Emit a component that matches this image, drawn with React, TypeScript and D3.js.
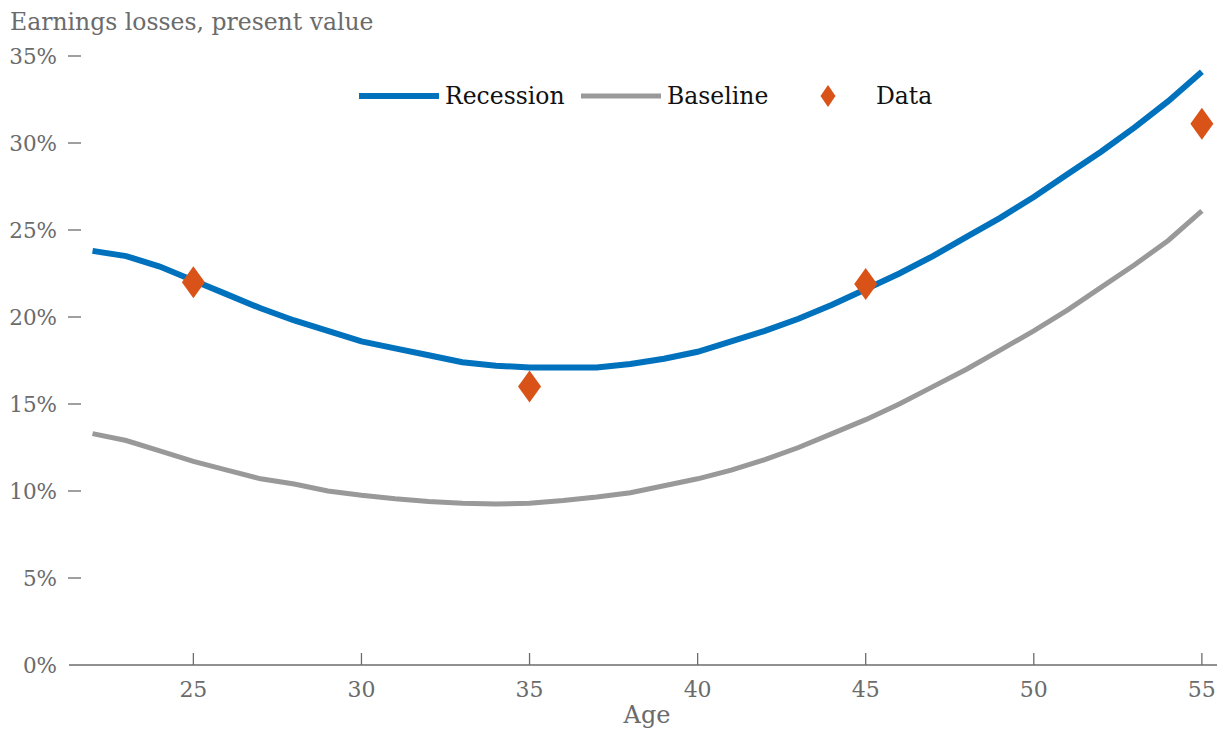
import React, { useEffect, useRef } from 'react';
import * as d3 from 'd3';

const AGES = d3.range(22, 56);

const RECESSION = [
  23.8, 23.5, 22.9, 22.1, 21.3, 20.5, 19.8, 19.2, 18.6, 18.2, 17.8, 17.4,
  17.2, 17.1, 17.1, 17.1, 17.3, 17.6, 18.0, 18.6, 19.2, 19.9, 20.7, 21.6,
  22.5, 23.5, 24.6, 25.7, 26.9, 28.2, 29.5, 30.9, 32.4, 34.1,
];

const BASELINE = [
  13.3, 12.9, 12.3, 11.7, 11.2, 10.7, 10.4, 10.0, 9.75, 9.55, 9.4, 9.3,
  9.25, 9.3, 9.45, 9.65, 9.9, 10.3, 10.7, 11.2, 11.8, 12.5, 13.3, 14.1,
  15.0, 16.0, 17.0, 18.1, 19.2, 20.4, 21.7, 23.0, 24.4, 26.1,
];

const DATA_AGES = [25, 35, 45, 55];
const DATA_VALUES = [22.0, 16.0, 21.9, 31.1];

const X_TICKS = [25, 30, 35, 40, 45, 50, 55];
const Y_TICKS = [0, 5, 10, 15, 20, 25, 30, 35];

const W = 1217;
const H = 731;
const FONT = 'DejaVu Serif, serif';
const AXIS_GRAY = '#6b6b6b';
const BLUE = '#0072BD';
const GRAY = '#999999';
const ORANGE = '#D95319';

const diamond = (cx: number, cy: number, w: number, h: number) =>
  `M${cx},${cy - h / 2}L${cx + w / 2},${cy}L${cx},${cy + h / 2}L${cx - w / 2},${cy}Z`;

export default function App() {
  const ref = useRef<SVGSVGElement>(null);

  useEffect(() => {
    if (!ref.current) return;
    const svg = d3.select(ref.current);
    svg.selectAll('*').remove();

    const x = d3.scaleLinear().domain([21.3, 55.45]).range([69, 1217]);
    const y = d3.scaleLinear().domain([0, 35]).range([665, 56]);

    // title
    svg.append('text')
      .attr('x', 10).attr('y', 30)
      .attr('font-family', FONT).attr('font-size', 23.5)
      .attr('fill', AXIS_GRAY)
      .text('Earnings losses, present value');

    // x axis
    const xAxis = svg.append('g');
    xAxis.append('line')
      .attr('x1', 69).attr('x2', 1217)
      .attr('y1', y(0)).attr('y2', y(0))
      .attr('stroke', AXIS_GRAY).attr('stroke-width', 1.3);
    xAxis.selectAll('line.tick')
      .data(X_TICKS)
      .join('line')
      .attr('class', 'tick')
      .attr('x1', (d) => x(d)).attr('x2', (d) => x(d))
      .attr('y1', y(0)).attr('y2', y(0) - 12)
      .attr('stroke', AXIS_GRAY).attr('stroke-width', 1.3);
    xAxis.selectAll('text.tl')
      .data(X_TICKS)
      .join('text')
      .attr('class', 'tl')
      .attr('x', (d) => x(d)).attr('y', 697)
      .attr('text-anchor', 'middle')
      .attr('font-family', FONT).attr('font-size', 22)
      .attr('fill', AXIS_GRAY)
      .text((d) => d);
    xAxis.append('text')
      .attr('x', 647).attr('y', 723)
      .attr('text-anchor', 'middle')
      .attr('font-family', FONT).attr('font-size', 24)
      .attr('fill', AXIS_GRAY)
      .text('Age');

    // y axis (ticks only)
    const yAxis = svg.append('g');
    yAxis.selectAll('line')
      .data(Y_TICKS.filter((d) => d > 0))
      .join('line')
      .attr('x1', 68).attr('x2', 81)
      .attr('y1', (d) => y(d)).attr('y2', (d) => y(d))
      .attr('stroke', AXIS_GRAY).attr('stroke-width', 1.3);
    yAxis.selectAll('text')
      .data(Y_TICKS)
      .join('text')
      .attr('x', 57).attr('y', (d) => y(d) + 8)
      .attr('text-anchor', 'end')
      .attr('font-family', FONT).attr('font-size', 21.5)
      .attr('fill', AXIS_GRAY)
      .text((d) => `${d}%`);

    // lines
    const line = d3.line<number>()
      .x((_, i) => x(AGES[i]))
      .y((d) => y(d));

    svg.append('path')
      .attr('d', line(BASELINE) ?? '')
      .attr('fill', 'none').attr('stroke', GRAY).attr('stroke-width', 5);
    svg.append('path')
      .attr('d', line(RECESSION) ?? '')
      .attr('fill', 'none').attr('stroke', BLUE).attr('stroke-width', 6);

    // data markers
    svg.selectAll('path.dm')
      .data(DATA_AGES)
      .join('path')
      .attr('class', 'dm')
      .attr('d', (d, i) => diamond(x(d), y(DATA_VALUES[i]), 23, 32))
      .attr('fill', ORANGE);

    // legend
    const lg = svg.append('g');
    const ly = 96;
    lg.append('line').attr('x1', 359).attr('x2', 439).attr('y1', ly).attr('y2', ly)
      .attr('stroke', BLUE).attr('stroke-width', 6);
    lg.append('text').attr('x', 445).attr('y', ly + 8)
      .attr('font-family', FONT).attr('font-size', 23.5).attr('fill', '#111')
      .text('Recession');
    lg.append('line').attr('x1', 581).attr('x2', 661).attr('y1', ly).attr('y2', ly)
      .attr('stroke', GRAY).attr('stroke-width', 5);
    lg.append('text').attr('x', 667).attr('y', ly + 8)
      .attr('font-family', FONT).attr('font-size', 23.5).attr('fill', '#111')
      .text('Baseline');
    lg.append('path').attr('d', diamond(828, ly, 15, 22)).attr('fill', ORANGE);
    lg.append('text').attr('x', 876).attr('y', ly + 8)
      .attr('font-family', FONT).attr('font-size', 23.5).attr('fill', '#111')
      .text('Data');
  }, []);

  return (
    <svg
      ref={ref}
      width={W}
      height={H}
      style={{ position: 'absolute', left: 0, top: 0, background: '#fff' }}
    />
  );
}
